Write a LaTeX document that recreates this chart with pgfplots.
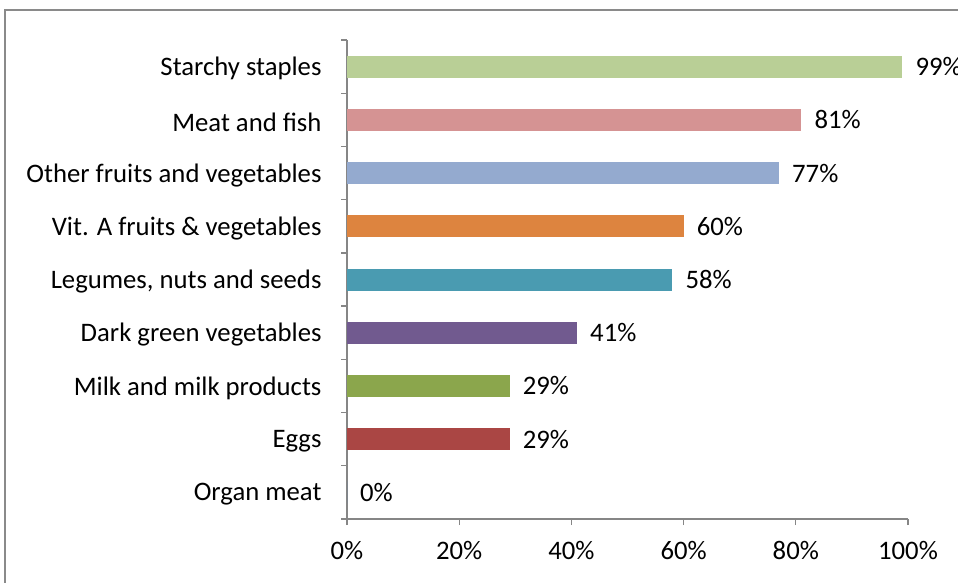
\documentclass[border=0pt]{standalone}
\usepackage{pgfplots}
\pgfplotsset{compat=1.18}
\usepackage{fontspec}
\setmainfont{Carlito}
\definecolor{framegray}{HTML}{8A8A8A}
\definecolor{axisgray}{HTML}{868686}
\definecolor{cA}{HTML}{B9CF96}
\definecolor{cB}{HTML}{D59393}
\definecolor{cC}{HTML}{94AACF}
\definecolor{cD}{HTML}{DD843F}
\definecolor{cE}{HTML}{4A9BB1}
\definecolor{cF}{HTML}{715A8F}
\definecolor{cG}{HTML}{8BA64C}
\definecolor{cH}{HTML}{AA4644}
\definecolor{cI}{HTML}{4F81BD}
\begin{document}
\begin{tikzpicture}[x=1pt,y=1pt,font=\fontsize{26.7}{32}\selectfont]
\useasboundingbox (0,0) rectangle (958,582);
\draw[framegray, line width=1.2pt] (5,-10) rectangle (975,572);
\begin{axis}[
  at={(347pt,63pt)}, anchor=south west,
  scale only axis, width=561pt, height=479pt,
  xbar, bar width=22pt, bar shift=0pt,
  xmin=0, xmax=100, ymin=-0.5, ymax=8.5, y dir=reverse,
  axis x line*=bottom, axis y line*=left,
  axis line style={draw=axisgray, line width=1.3pt, -},
  xtick={0,20,...,100},
  xticklabel={\pgfmathprintnumber{\tick}\%},
  ytick={0,...,8},
  yticklabels={Starchy staples,Meat and fish,Other fruits and vegetables,Vit. A fruits \& vegetables,{Legumes, nuts and seeds},Dark green vegetables,Milk and milk products,Eggs,Organ meat},
  minor ytick={-0.5,0.5,...,8.5},
  tick align=outside, major tick length=6pt, minor tick length=6pt,
  tick style={draw=axisgray, line width=1.3pt},
  major y tick style={draw=none},
  yticklabel style={xshift=-16pt, yshift=-2pt},
  xticklabel style={yshift=-13pt},
  /pgf/number format/assume math mode=true,
  point meta=x,
  nodes near coords={\pgfmathprintnumber{\pgfplotspointmeta}\%},
  nodes near coords style={anchor=west, inner sep=0pt, xshift=13pt, text=black},
  clip=false,
]
\addplot[fill=cA, draw=none] coordinates {(99,0)};
\addplot[fill=cB, draw=none] coordinates {(81,1)};
\addplot[fill=cC, draw=none] coordinates {(77,2)};
\addplot[fill=cD, draw=none] coordinates {(60,3)};
\addplot[fill=cE, draw=none] coordinates {(58,4)};
\addplot[fill=cF, draw=none] coordinates {(41,5)};
\addplot[fill=cG, draw=none] coordinates {(29,6)};
\addplot[fill=cH, draw=none] coordinates {(29,7)};
\addplot[fill=cI, draw=none] coordinates {(0,8)};
\end{axis}
\end{tikzpicture}
\end{document}
